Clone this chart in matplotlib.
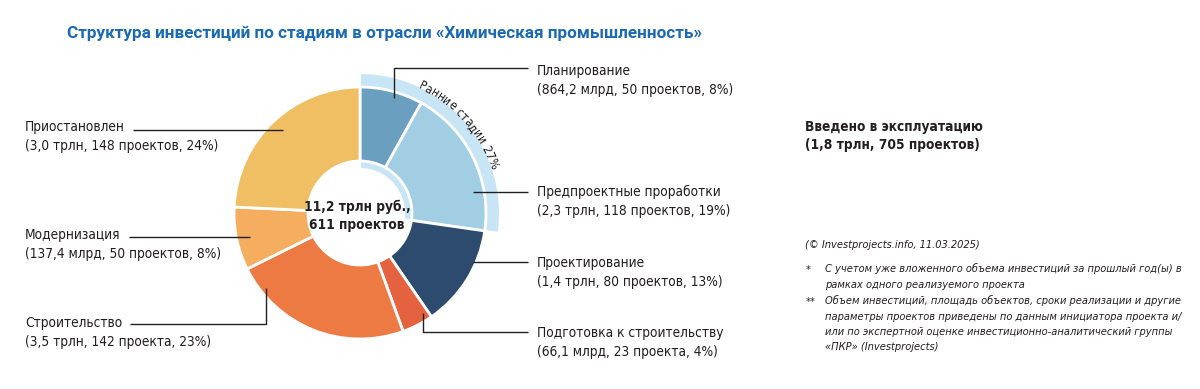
import numpy as np
import matplotlib
matplotlib.use("Agg")
import matplotlib.pyplot as plt
from matplotlib.font_manager import FontProperties

# данные
stages = ['Планирование', 'Предпроектные проработки', 'Проектирование',
          'Подготовка к строительству', 'Строительство', 'Модернизация', 'Приостановлен']
shares = [8, 19, 13, 4, 23, 8, 24]
details = ['(864,2 млрд, 50 проектов, 8%)', '(2,3 трлн, 118 проектов, 19%)',
           '(1,4 трлн, 80 проектов, 13%)', '(66,1 млрд, 23 проекта, 4%)',
           '(3,5 трлн, 142 проекта, 23%)', '(137,4 млрд, 50 проектов, 8%)',
           '(3,0 трлн, 148 проектов, 24%)']
colors = ['#6b9fc0', '#a2cee3', '#2c4b6e', '#e4623f', '#ee7a43', '#f5ae60', '#f0bf63']
early_share = 27
early_label = 'Ранние стадии 27%'
total_label = ['11,2 трлн руб.,', '611 проектов']

W, H = 1200, 389
fig = plt.figure(figsize=(12, 3.89), dpi=100)
ax = fig.add_axes([0, 0, 1, 1])

cx, cy = 360, H - 213
r_out, r_in = 126, 52

# подложка "ранние стадии"
band, _ = ax.pie([early_share, sum(shares) - early_share], colors=['#c8e5f5', 'none'],
                 startangle=90, counterclock=False, radius=140, center=(cx, cy),
                 wedgeprops=dict(width=96, edgecolor='white', linewidth=1.5), frame=True)
band[1].set_edgecolor('none')

ax.pie(shares, colors=colors, startangle=90, counterclock=False, radius=r_out,
       center=(cx, cy), wedgeprops=dict(width=r_out - r_in, edgecolor='white', linewidth=2),
       frame=True)

ax.set_xlim(0, W)
ax.set_ylim(0, H)
ax.set_aspect('equal')
ax.axis('off')

fam = 'DejaVu Sans'
st = 'condensed'
fs = 9.8
txt_color = '#231f20'
renderer = fig.canvas.get_renderer()

def tw(s, fp):
    w, h, d = renderer.get_text_width_height_descent(s, fp, ismath=False)
    return w

# центр
ax.text(cx - 3, H - 207, total_label[0], ha='center', va='center', fontsize=fs,
        fontweight='bold', family=fam, stretch=st, color=txt_color)
ax.text(cx - 3, H - 225, total_label[1], ha='center', va='center', fontsize=fs,
        fontweight='bold', family=fam, stretch=st, color=txt_color)

# заголовок
ax.text(67, H - 33, 'Структура инвестиций по стадиям в отрасли «Химическая промышленность»',
        ha='left', va='center', fontsize=12.3, fontweight='bold', family='Roboto',
        color='#1a6ab3')

# подписи: (позиция текста, путь линии)
right_x, left_x = 537, 25
label_pos = {
    0: (right_x, 71, [(394, 98), (394, 68), (528, 68)]),
    1: (right_x, 192, [(473, 192), (528, 192)]),
    2: (right_x, 263, [(473, 262), (528, 262)]),
    3: (right_x, 333, [(423, 313), (423, 332), (528, 332)]),
    4: (left_x, 323, [(266, 288), (266, 324), (118, 324)]),
    5: (left_x, 235, [(250, 237), (128, 237)]),
    6: (left_x, 127, [(283, 130), (128, 130)]),
}
fp_lab = FontProperties(family=fam, stretch=st, size=fs)
for i, (tx, ty, path) in label_pos.items():
    xs = [p[0] for p in path]
    ys = [H - p[1] for p in path]
    if tx == left_x:
        xs[-1] = max(xs[-1], tx + tw(stages[i], fp_lab) + 8)
    ax.plot(xs, ys, color='#231f20', lw=1.0, solid_capstyle='butt')
    ax.text(tx, H - ty, stages[i], ha='left', va='center', fontproperties=fp_lab,
            color=txt_color)
    ax.text(tx, H - ty - 19, details[i], ha='left', va='center', fontproperties=fp_lab,
            color=txt_color)

# текст по дуге
fp = FontProperties(family=fam, stretch=st, size=8.8)
r_txt = 141
theta0 = np.deg2rad(25)
pos = 0.0
for ch in early_label:
    w = tw(ch, fp) if ch != ' ' else tw('н', fp) * 0.5
    th = theta0 + (pos + w / 2) / r_txt
    pos += w
    x = cx + r_txt * np.sin(th)
    y = cy + r_txt * np.cos(th)
    ax.text(x, y, ch, ha='center', va='center', rotation=-np.rad2deg(th),
            rotation_mode='anchor', fontproperties=fp, color=txt_color)

# справа
ax.text(805, H - 127, 'Введено в эксплуатацию', ha='left', va='center', fontsize=fs,
        fontweight='bold', family=fam, stretch=st, color=txt_color)
ax.text(805, H - 145, '(1,8 трлн, 705 проектов)', ha='left', va='center', fontsize=fs,
        fontweight='bold', family=fam, stretch=st, color=txt_color)

note_fs = 7.9
note = dict(ha='left', va='center', fontsize=note_fs, style='italic', family=fam,
            stretch=st, color=txt_color)
ax.text(805, H - 245, '(© Investprojects.info, 11.03.2025)', **note)
ax.text(806, H - 270, '*', **note)
ax.text(806, H - 302, '**', **note)
notes1 = ['С учетом уже вложенного объема инвестиций за прошлый год(ы) в',
          'рамках одного реализуемого проекта']
notes2 = ['Объем инвестиций, площадь объектов, сроки реализации и другие',
          'параметры проектов приведены по данным инициатора проекта и/',
          'или по экспертной оценке инвестиционно-аналитический группы',
          '«ПКР» (Investprojects)']
for j, line in enumerate(notes1):
    ax.text(825, H - 269 - 16 * j, line, **note)
for j, line in enumerate(notes2):
    ax.text(825, H - 301 - 15.5 * j, line, **note)

fig.savefig('out.png', dpi=100)
